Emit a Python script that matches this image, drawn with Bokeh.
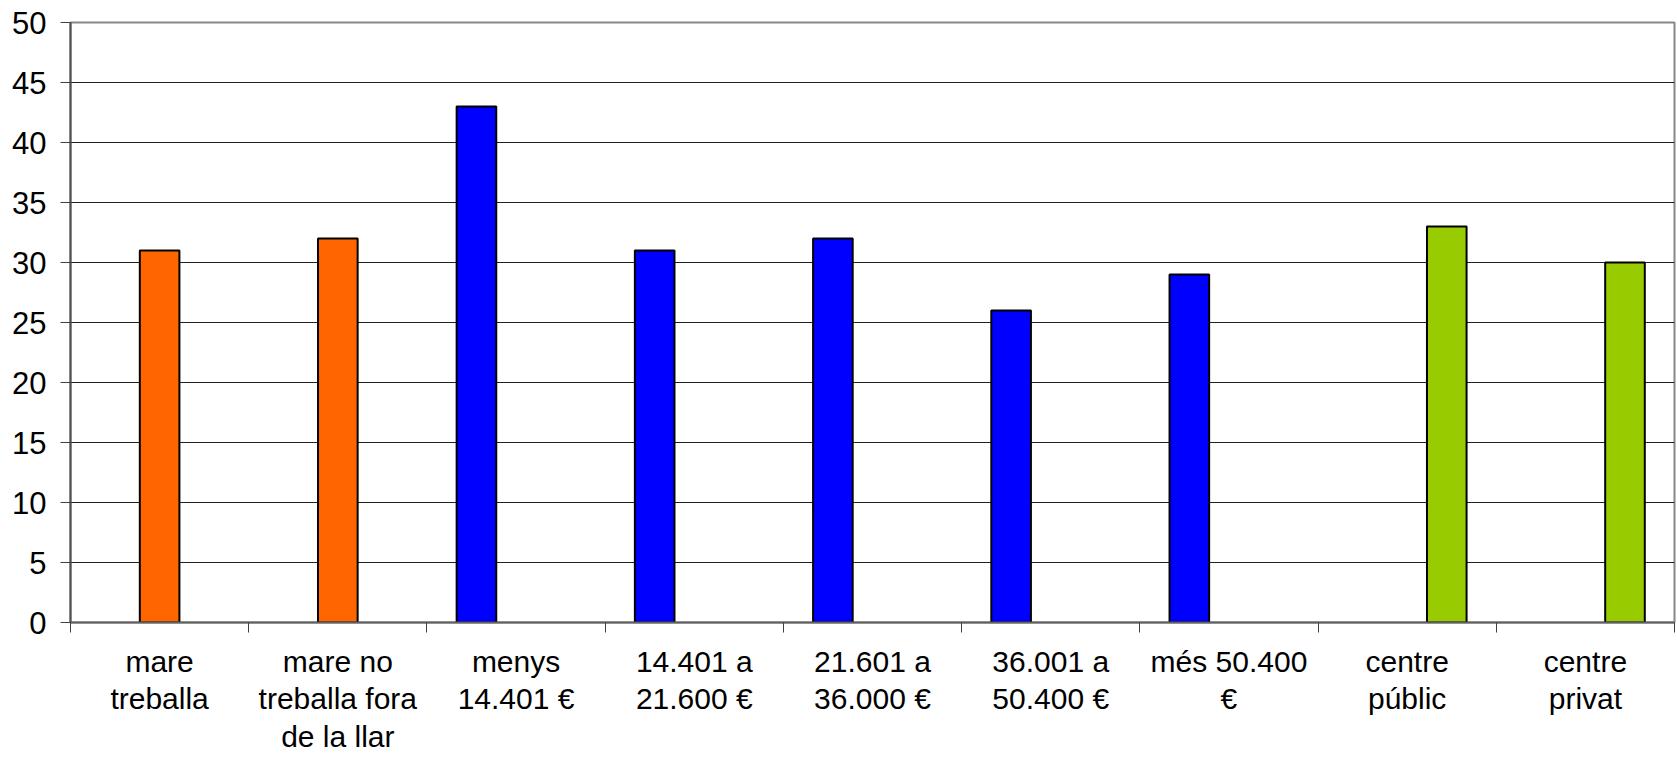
from bokeh.plotting import figure
from bokeh.models import FixedTicker, Range1d
from bokeh.embed import file_html
from bokeh.resources import INLINE

# ---- data ----
categories = [
    "mare\ntreballa",
    "mare no\ntreballa fora\nde la llar",
    "menys\n14.401 €",
    "14.401 a\n21.600 €",
    "21.601 a\n36.000 €",
    "36.001 a\n50.400 €",
    "més 50.400\n€",
    "centre\npúblic",
    "centre\nprivat",
]
mother_idx = [0, 1]
mother_vals = [31, 32]
income_idx = [2, 3, 4, 5, 6]
income_vals = [43, 31, 32, 26, 29]
school_idx = [7, 8]
school_vals = [33, 30]
y_ticks = [0, 5, 10, 15, 20, 25, 30, 35, 40, 45, 50]

FONT = "Liberation Sans"
bw = 1 / 4.5  # bar width (3 series, 150% gap)

p = figure(width=1677, height=758, output_backend="svg", toolbar_location=None,
           x_range=Range1d(0, len(categories)), y_range=Range1d(0, 50),
           min_border_left=70, min_border_right=3, min_border_top=22, min_border_bottom=136)

p.vbar(x=[i + 0.5 - bw for i in income_idx], top=income_vals, width=bw,
       fill_color="#0000FF", line_color="black", line_width=2)
p.vbar(x=[i + 0.5 for i in mother_idx], top=mother_vals, width=bw,
       fill_color="#FF6600", line_color="black", line_width=2)
p.vbar(x=[i + 0.5 + bw for i in school_idx], top=school_vals, width=bw,
       fill_color="#99CC00", line_color="black", line_width=2)

# x axis
centers = [i + 0.5 for i in range(len(categories))]
p.xaxis.ticker = FixedTicker(ticks=centers, minor_ticks=list(range(len(categories) + 1)))
p.xaxis.major_label_overrides = {c: lab for c, lab in zip(centers, categories)}
p.xaxis.major_tick_line_color = None
p.xaxis.major_tick_out = 10
p.xaxis.major_tick_in = 0
p.xaxis.minor_tick_out = 10
p.xaxis.minor_tick_in = 0
p.xaxis.minor_tick_line_color = "#404040"
p.xaxis.minor_tick_line_width = 1
p.xaxis.axis_line_color = "#606060"
p.xaxis.axis_line_width = 2
p.xaxis.major_label_text_font = FONT
p.xaxis.major_label_text_font_size = "30px"
p.xaxis.major_label_text_color = "black"
p.xaxis.major_label_text_line_height = 1.15
p.xaxis.major_label_standoff = 12

# y axis
p.yaxis.ticker = FixedTicker(ticks=y_ticks)
p.yaxis.major_tick_out = 10
p.yaxis.major_tick_in = 0
p.yaxis.minor_tick_line_color = None
p.yaxis.major_tick_line_color = "#404040"
p.yaxis.axis_line_color = "#505050"
p.yaxis.axis_line_width = 2
p.yaxis.major_label_text_font = FONT
p.yaxis.major_label_text_font_size = "31px"
p.yaxis.major_label_text_color = "black"
p.yaxis.major_label_standoff = 14

# grid
p.xgrid.grid_line_color = None
p.ygrid.ticker = FixedTicker(ticks=y_ticks)
p.ygrid.grid_line_color = "#222222"
p.ygrid.grid_line_width = 1

p.outline_line_color = "#888888"
p.outline_line_width = 2
p.background_fill_color = "white"
p.border_fill_color = "white"

open("out.html", "w").write(file_html(p, INLINE))
